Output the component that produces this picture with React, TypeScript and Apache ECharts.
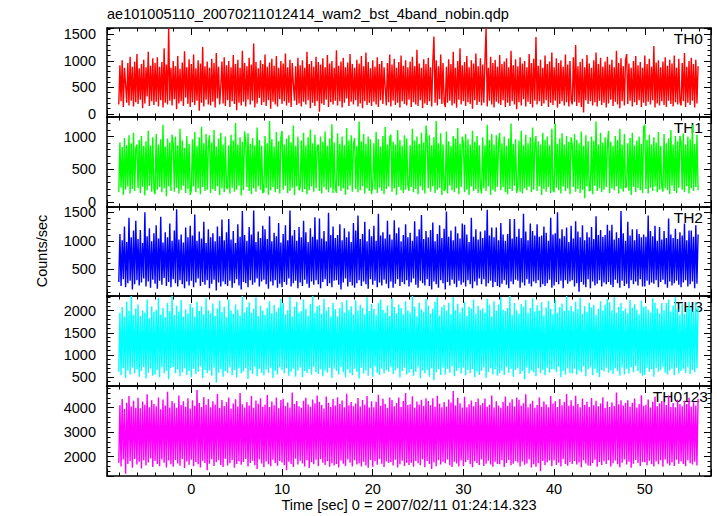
import React, { useEffect, useRef } from 'react';
import * as echarts from 'echarts';

// Time bins (sec): start and width
const T_START = -8;
const T_STEP = 0.125;

const th0 = [
  180,920,240,1010,130,870,560,210,960,160,1080,250,890,140,990,220,
  1130,190,860,270,940,110,1020,200,880,330,1170,150,910,240,1050,170,
  960,230,1070,140,890,260,980,120,1240,210,930,180,1620,250,870,160,
  1000,280,900,90,1090,200,850,240,970,150,1180,310,880,190,1030,130,
  940,220,1120,170,860,250,1010,60,950,210,1260,140,900,270,990,180,
  870,160,1040,230,960,120,1150,290,890,180,520,990,200,1070,150,920,
  260,1000,130,880,240,1110,190,940,70,1020,210,870,160,1190,230,960,
  140,900,270,1060,180,930,250,1330,120,980,200,860,300,1010,170,940,
  220,1120,150,890,260,970,100,1040,230,910,180,1090,140,870,280,1000,
  190,950,240,1140,160,880,210,1020,130,960,560,250,900,170,1060,200,
  920,140,1010,230,870,180,1170,260,940,110,1000,210,890,150,1080,240,
  980,40,930,200,1050,170,880,270,1110,130,950,220,1000,180,870,250,
  1200,160,910,240,990,120,1060,210,880,290,970,150,1130,230,940,180,
  870,260,1020,140,950,200,1090,110,900,240,1160,170,980,210,860,150,
  1010,230,890,180,1070,130,940,260,1000,190,880,500,160,960,220,1120,
  140,930,250,1040,170,870,210,980,120,1100,240,910,190,1010,160,880,
  270,990,130,1080,220,900,180,1210,150,950,260,870,110,1030,200,940,
  170,1060,240,880,140,970,1460,210,1010,160,900,280,1120,190,960,230,
  130,890,210,1030,250,940,160,1170,200,870,120,1000,270,1240,180,920,
  240,980,150,1090,220,880,190,1010,100,950,260,1140,170,900,230,1050,
  160,930,210,1000,1620,140,870,250,1080,180,960,120,1020,230,890,200,
  1110,170,940,260,990,130,1050,210,880,150,1190,240,920,180,1030,90,
  900,220,1070,160,950,280,1000,140,880,230,1130,190,960,120,1040,250,
  1450,180,910,240,1020,150,870,200,1100,260,940,130,990,210,1160,170,
  880,250,1050,120,960,190,1010,240,890,160,1120,220,930,140,1000,270,
  180,1070,230,1300,150,900,210,980,130,1040,30,880,260,1110,190,950,
  240,870,160,1010,220,1160,140,940,250,1060,170,890,210,990,120,1080,
  200,930,270,1020,150,880,230,1190,180,960,110,1050,240,900,160,1010,
  1130,190,950,250,870,140,1000,220,1090,170,920,260,980,130,870,210,
  1100,150,940,230,1040,180,890,260,1280,120,970,200,1010,160,880,240,
  990,170,1070,130,910,250,1020,190,950,140,1100,220,870,180,1040,230,
  160,960,240,1150,130,890,210,1000,170,1060,250,940,120,1020,200,900,
];

const th1 = [
  150,910,220,840,110,980,190,870,240,1020,130,900,200,1060,170,820,
  880,210,950,140,1010,230,860,100,930,180,1090,250,870,160,990,200,
  120,1040,190,880,230,960,150,1180,210,850,90,970,240,910,170,1030,
  900,160,1000,220,870,130,1120,190,940,250,830,140,1010,200,890,110,
  180,960,240,1070,150,860,210,990,120,1150,230,900,170,1040,190,880,
  1020,140,910,200,1100,170,850,240,970,110,1060,210,880,150,1000,230,
  200,870,130,1030,220,940,160,1210,190,880,250,990,100,920,180,1080,
  930,230,1050,170,890,120,980,210,870,160,1140,240,950,190,860,140,
  160,1010,210,900,110,1240,180,960,230,850,150,1070,200,930,130,990,
  1090,190,880,250,970,140,1020,170,910,220,1170,110,860,240,1000,180,
  230,940,150,1060,200,870,120,990,180,1110,240,900,160,1030,210,850,
  880,170,1000,130,920,230,1080,190,860,150,970,220,1190,140,910,200,
  140,1050,240,890,170,1000,210,870,110,1130,190,940,250,1020,160,880,
  980,200,860,150,1230,180,930,240,1040,130,890,210,1000,170,960,120,
  250,900,190,1070,140,960,220,850,170,1010,120,1150,200,880,240,990,
  1030,160,920,210,880,110,1100,230,950,180,860,140,1020,190,970,250,
  170,870,230,1120,150,940,200,1000,120,890,240,1060,180,910,130,1170,
  960,210,1020,160,870,240,990,140,1240,190,900,220,1050,110,880,170,
  200,1080,130,930,250,860,180,1010,150,970,210,1130,120,890,230,1000,
  900,150,1040,190,960,110,880,240,1090,170,920,200,1010,140,870,220,
  130,990,210,870,170,1180,240,950,110,1040,190,880,160,1020,230,910,
  1060,180,900,230,1000,150,860,120,970,200,1200,170,890,250,960,140,
  220,940,160,1090,130,870,210,1030,180,900,240,990,150,1140,190,880,
  1010,170,930,240,880,110,1060,200,950,160,1000,230,870,140,1120,190,
  150,1200,220,890,180,970,130,1050,240,880,170,1010,210,920,120,990,
  870,230,1040,160,950,200,900,140,1080,190,860,60,1020,240,930,170,
  180,1000,120,940,250,1230,170,880,210,1060,150,910,190,990,230,870,
  1090,140,920,210,860,180,1010,240,950,130,1120,200,880,160,1040,220,
  240,900,170,980,110,1060,230,870,150,940,210,1000,180,890,140,1150,
  1180,200,950,130,1030,220,880,170,990,240,910,150,1070,190,860,230,
  160,1040,210,900,180,970,120,1100,250,880,170,1010,140,930,220,1010,
  920,190,1050,150,880,240,1000,130,960,210,1180,170,890,230,1030,180,
];

const th2 = [
  280,1120,210,1010,330,1250,190,980,260,1400,300,1060,150,1180,240,1350,
  310,1030,220,1190,270,960,340,1500,200,1080,290,1220,180,990,320,1130,
  250,1270,160,1040,300,1420,230,970,350,1150,210,1060,280,1300,190,1000,
  330,1180,260,1550,200,1020,310,1110,240,970,170,1230,290,1060,220,1260,
  300,1090,190,1460,270,1000,340,1160,210,1040,280,1330,230,960,310,1200,
  170,1060,250,1130,320,990,130,1250,270,1080,200,1370,290,1010,240,1150,
  210,1380,300,1020,180,1170,260,960,330,1290,220,1070,150,1520,280,1100,
  260,1000,190,1240,310,1110,230,1530,270,980,340,1160,200,1050,290,1260,
  320,1200,240,1030,160,1430,290,990,220,1140,310,1080,180,1310,250,970,
  190,1120,280,1270,230,1010,340,1530,200,1090,260,1190,300,1000,170,1240,
  270,1060,210,1350,320,1150,250,980,180,1220,290,1070,230,1410,310,1020,
  240,1390,170,1040,280,1170,330,990,210,1490,260,1100,190,1250,300,1050,
  310,1100,230,1290,150,1010,270,1220,340,1060,200,1160,280,980,220,1310,
  180,1180,260,1440,310,1030,210,1120,290,1330,240,990,160,1200,330,1080,
  230,1260,300,1000,190,1470,270,1090,220,1150,320,1040,250,1350,170,1110,
  290,1020,180,1360,250,1130,330,1230,210,990,280,1100,240,1290,310,1060,
  200,1140,270,1000,340,1340,230,1080,180,1200,300,1450,260,1030,220,1170,
  330,1060,210,1190,150,1320,290,990,240,1120,180,1270,310,1050,260,1210,
  150,1510,280,1070,220,1180,320,1010,250,1250,190,1130,300,1040,230,1300,
  270,1280,200,1110,310,980,240,1400,170,1070,290,1200,220,1020,340,1160,
  240,1050,330,1180,200,1540,260,1090,300,1230,190,1060,280,1230,210,1010,
  190,1310,250,1110,310,1000,230,1120,170,1380,290,1040,240,1380,320,1070,
  300,1210,180,1050,270,1470,220,1160,330,1010,250,1300,200,1170,290,1090,
  260,1290,310,1070,190,1090,240,1250,210,1140,260,1000,320,1400,180,1110,
  220,1130,280,1500,240,1040,300,1200,170,1080,310,1230,250,980,290,1260,
  310,1040,200,1340,260,1160,110,1060,280,1270,230,1010,190,1150,330,1060,
  170,1240,290,1030,220,1430,250,1100,310,1190,200,1070,270,1100,240,1280,
  280,1180,230,1280,190,1020,320,1150,260,1050,180,1520,300,1130,210,1000,
  250,1330,170,1090,310,1200,240,1010,290,1200,220,1120,330,1060,200,1110,
  200,1070,300,1440,230,1170,270,1080,250,1260,310,1000,190,1240,280,1020,
  320,1170,240,1050,180,1390,290,1110,220,1050,260,1210,300,1030,230,1150,
  190,1090,270,1300,310,1010,200,1180,240,1180,290,1070,170,1270,250,1110,
];

const th3 = [
  620,1950,540,2080,700,1870,480,2200,650,1990,560,2330,710,1900,590,2050,
  680,2140,510,1880,640,2010,730,1960,470,2250,600,1830,690,2100,530,1970,
  560,2020,660,2290,500,1910,720,2060,580,1850,640,2180,450,1990,700,2330,
  730,1900,590,2110,670,1980,520,2240,610,1870,700,2030,550,1940,640,2150,
  500,2070,690,1860,570,2200,620,1990,740,2100,480,1920,660,2280,590,2010,
  650,1940,530,2160,710,1880,380,2050,600,2230,680,1970,510,2090,640,1850,
  590,2250,720,2000,540,1930,660,2140,490,2020,700,1890,580,2330,630,1960,
  700,2080,460,2190,650,1950,570,2040,730,2300,520,1880,690,2110,600,2000,
  540,1900,670,2060,600,2210,710,1940,480,2130,640,1980,560,2070,720,2270,
  660,2180,580,1910,700,2010,530,2310,620,1870,690,2090,510,2200,650,1960,
  720,1990,500,2250,640,2040,590,1880,680,2150,560,2330,730,1950,610,2100,
  570,2120,680,1930,520,2270,650,2000,600,2080,710,1860,480,2170,690,2030,
  640,1870,560,2060,730,2190,610,1960,500,2240,670,2010,590,2100,540,1920,
  690,2230,620,2000,470,2130,710,2060,580,1910,650,2300,530,1990,700,2150,
  510,2040,740,1900,600,2170,550,2250,690,2020,580,1950,660,2120,620,1880,
  730,2280,570,2080,650,1940,700,2140,490,2060,640,1910,710,2210,560,2000,
  600,1960,680,2330,530,2090,620,1870,720,2180,470,2030,650,1980,590,2260,
  660,2110,510,1940,700,2040,430,2200,610,2300,680,1890,550,2080,720,2130,
  560,2000,690,2180,600,1920,740,2310,520,2010,640,2150,700,1960,580,2070,
  710,2200,540,1880,660,2090,590,2050,680,2250,500,1930,630,2110,550,2020,
  640,2050,720,1960,480,2270,610,2130,700,1870,560,2210,680,2000,530,2140,
  590,2300,650,2020,550,1990,730,2060,600,2330,690,1900,510,2170,660,2010,
  700,1930,570,2150,640,2090,450,2240,720,1950,580,2060,650,2280,610,1980,
  520,2120,700,2000,590,2190,660,1890,540,2070,710,2220,600,2040,680,1920,
  670,2250,610,1950,730,2080,500,2160,640,1990,560,2330,700,2010,590,2110,
  580,1980,690,2200,560,2030,650,2290,610,1930,740,2100,520,1970,670,2180,
  720,2070,540,2130,690,1900,600,2040,500,2210,660,2000,630,2140,710,2260,
  600,2190,650,2010,570,2300,700,1950,640,2090,530,2170,720,1990,560,2050,
  690,1940,580,2240,720,2060,610,2150,750,2020,640,1910,590,2230,530,2080,
  550,2100,710,2020,620,1960,680,2280,510,2180,700,2050,620,1940,660,2170,
  730,2010,600,2170,560,2250,650,1980,690,2110,540,2310,710,2030,580,1900,
  640,2160,690,1930,590,2070,720,2200,570,2040,660,2000,610,2190,700,2080,
];

const th0123 = [
  1750,4100,1600,4350,1880,3950,1300,4200,1700,4480,1820,4050,1550,4280,1900,4000,
  1680,4400,1790,3980,1520,4250,1850,4120,1640,4550,1760,4020,1930,4300,1580,4150,
  1820,4060,1700,4420,1610,3940,1880,4330,1750,4090,1560,4650,1840,4010,1690,4270,
  1590,4180,1860,4000,1720,4500,1630,4110,1900,4260,1540,4040,1800,4380,1670,3970,
  1870,4300,1610,4080,1780,4720,1690,4190,1560,4030,1830,4440,1740,4120,1450,4350,
  1710,4020,1890,4260,1620,4130,1770,4560,1850,3990,1660,4310,1580,4070,1920,4220,
  1640,4410,1730,3960,1860,4170,1550,4340,1700,4050,1810,4600,1670,4140,1780,4010,
  1900,4230,1600,4090,1740,4480,1830,4000,1650,4290,1500,4160,1880,4380,1720,4040,
  1570,4120,1800,4520,1690,4030,1610,4250,1870,4100,1740,4420,1630,3980,1820,4310,
  1760,4360,1650,4070,1450,4210,1790,4010,1700,4620,1580,4150,1910,4270,1680,4060,
  1830,4000,1720,4280,1600,4400,1850,4130,1540,4040,1770,4330,1690,4180,1870,4500,
  1620,4240,1890,4110,1750,3970,1660,4460,1810,4200,1590,4030,1730,4350,1640,4090,
  1700,4430,1560,4150,1840,4290,1710,4020,1620,4570,1880,4100,1750,4230,1600,4060,
  1850,4170,1680,4390,1730,4050,1600,4310,1790,4120,1640,4480,1550,4010,1860,4260,
  1590,4020,1810,4240,1670,4530,1890,4080,1710,4360,1580,4150,1800,4000,1740,4420,
  1780,4310,1640,4060,1870,4190,1560,4410,1690,4030,1830,4270,1620,4600,1750,4110,
  1660,4140,1750,4470,1590,4000,1820,4250,1730,4130,1650,4320,1880,4070,1570,4380,
  1820,4270,1700,4100,1500,4380,1760,4040,1610,4490,1850,4160,1680,4020,1790,4230,
  1730,4050,1880,4330,1650,4210,1580,4680,1790,4090,1720,4400,1600,4180,1840,4010,
  1610,4450,1770,4020,1860,4140,1690,4290,1570,4060,1810,4230,1740,4370,1660,4100,
  1880,4190,1620,4370,1710,4040,1830,4120,1680,4500,1590,4010,1790,4260,1700,4090,
  1690,4000,1850,4230,1580,4460,1740,4070,1860,4210,1650,4340,1710,4050,1820,4410,
  1760,4320,1600,4090,1800,4180,1670,4550,1720,4020,1880,4160,1560,4280,1690,4000,
  1590,4110,1730,4420,1400,4040,1820,4250,1650,4130,1770,4020,1840,4480,1610,4170,
  1840,4260,1660,4030,1750,4350,1600,4100,1890,4230,1700,4560,1630,4080,1780,4300,
  1700,4080,1820,4490,1680,4150,1760,4020,1570,4370,1850,4110,1720,4240,1640,4030,
  1620,4390,1740,4100,1870,4280,1590,4060,1780,4170,1660,4430,1810,4000,1700,4250,
  1850,4030,1600,4210,1730,4070,1840,4620,1690,4140,1570,4300,1750,4090,1880,4190,
  1680,4300,1790,4040,1550,4200,1710,4370,1860,4010,1740,4150,1620,4510,1780,4080,
  1770,4120,1650,4330,1830,4010,1700,4240,1600,4450,1800,4060,1690,4180,1850,4270,
  1590,4230,1880,4110,1720,4500,1640,4030,1760,4190,1620,4020,1870,4320,1710,4140,
  1810,4060,1700,4280,1610,4150,1850,4400,1730,4040,1680,4220,1790,4090,1640,4360,
];

const bandNames = ['TH0', 'TH1', 'TH2', 'TH3', 'TH0123'];
const bandColors = ['#ff0000', '#00ff00', '#0000ff', '#00ffff', '#ff00ff'];
const bandValues = [th0, th1, th2, th3, th0123];
const yMins = [-57, -75, 35, 300, 1210];
const yMaxs = [1620, 1300, 1590, 2330, 4885];
const yMajorSteps = [500, 500, 500, 500, 1000];

const X_MIN = -9.3;
const X_MAX = 57.3;
const X_STEP = 10;

const TITLE = 'ae101005110_20070211012414_wam2_bst_4band_nobin.qdp';
const X_NAME = 'Time [sec] 0 = 2007/02/11 01:24:14.323';
const Y_NAME = 'Counts/sec';

const FONT = '"Liberation Sans", Arial, Helvetica, sans-serif';

export default function App() {
  const ref = useRef<HTMLDivElement>(null);

  useEffect(() => {
    if (!ref.current) return;
    const chart = echarts.init(ref.current, null, { renderer: 'svg' });

    const gridLeft = 107;
    const gridRight = 6;
    const gridTops = [28, 117, 207, 296, 386];
    const gridHeights = [89, 90, 89, 90, 90];

    const lineStyle = { color: '#000', width: 1.5 };
    const tickStyle = { color: '#000', width: 1 };
    const plain = (v: number) => String(v);

    const grids = gridTops.map((t, i) => ({
      left: gridLeft,
      right: gridRight,
      top: t,
      height: gridHeights[i],
      containLabel: false,
    }));

    const xAxes: any[] = [];
    const yAxes: any[] = [];
    bandNames.forEach((_, i) => {
      ['bottom', 'top'].forEach((pos) => {
        xAxes.push({
          type: 'value',
          gridIndex: i,
          position: pos,
          min: X_MIN,
          max: X_MAX,
          minInterval: X_STEP,
          maxInterval: X_STEP,
          axisLine: { show: true, onZero: false, lineStyle },
          axisTick: { show: true, inside: true, length: 7, lineStyle: tickStyle },
          minorTick: { show: true, splitNumber: 5, length: 3.5, lineStyle: tickStyle },
          splitLine: { show: false },
          minorSplitLine: { show: false },
          axisLabel: {
            show: pos === 'bottom' && i === bandNames.length - 1,
            showMinLabel: false,
            showMaxLabel: false,
            formatter: plain,
            color: '#000',
            fontSize: 14.5,
            fontFamily: FONT,
            margin: 5,
          },
        });
      });
      ['left', 'right'].forEach((pos) => {
        yAxes.push({
          type: 'value',
          gridIndex: i,
          position: pos,
          min: yMins[i],
          max: yMaxs[i],
          minInterval: yMajorSteps[i],
          maxInterval: yMajorSteps[i],
          axisLine: { show: true, onZero: false, lineStyle },
          axisTick: { show: true, inside: true, length: 7, lineStyle: tickStyle },
          minorTick: { show: true, splitNumber: 5, length: 3.5, lineStyle: tickStyle },
          splitLine: { show: false },
          minorSplitLine: { show: false },
          axisLabel: {
            show: pos === 'left',
            showMinLabel: false,
            showMaxLabel: false,
            formatter: plain,
            color: '#000',
            fontSize: 14.5,
            fontFamily: FONT,
            margin: 11,
          },
        });
      });
    });

    const series = bandValues.map((vals, i) => ({
      type: 'line',
      name: bandNames[i],
      xAxisIndex: i * 2,
      yAxisIndex: i * 2,
      data: vals.map((v, k) => [T_START + k * T_STEP, v]),
      showSymbol: false,
      symbol: 'none',
      clip: true,
      silent: true,
      lineStyle: { color: bandColors[i], width: 1.4 },
      itemStyle: { color: bandColors[i] },
      emphasis: { disabled: true },
    }));

    const labelGraphics = bandNames.map((n, i) => ({
      type: 'text',
      silent: true,
      style: {
        text: n,
        x: i === bandNames.length - 1 ? 708 : 703,
        y: gridTops[i] + 10.5,
        align: 'right',
        verticalAlign: 'middle',
        fill: '#000',
        fontSize: 15.5,
        fontFamily: FONT,
      },
    }));

    chart.setOption({
      animation: false,
      backgroundColor: '#fff',
      grid: grids,
      xAxis: xAxes,
      yAxis: yAxes,
      series,
      graphic: [
        {
          type: 'text',
          silent: true,
          style: {
            text: TITLE,
            x: 107,
            y: 14,
            align: 'left',
            verticalAlign: 'middle',
            fill: '#000',
            fontSize: 14.5,
            fontFamily: FONT,
          },
        },
        {
          type: 'text',
          silent: true,
          style: {
            text: X_NAME,
            x: 409,
            y: 505,
            align: 'center',
            verticalAlign: 'middle',
            fill: '#000',
            fontSize: 14.5,
            fontFamily: FONT,
          },
        },
        {
          type: 'text',
          silent: true,
          x: 42,
          y: 251,
          rotation: Math.PI / 2,
          style: {
            text: Y_NAME,
            x: 0,
            y: 0,
            align: 'center',
            verticalAlign: 'middle',
            fill: '#000',
            fontSize: 14.5,
            fontFamily: FONT,
          },
        },
        ...labelGraphics,
      ],
    });

    return () => {
      chart.dispose();
    };
  }, []);

  return (
    <div
      ref={ref}
      style={{ position: 'absolute', left: 0, top: 0, width: 717, height: 516, background: '#fff' }}
    />
  );
}
